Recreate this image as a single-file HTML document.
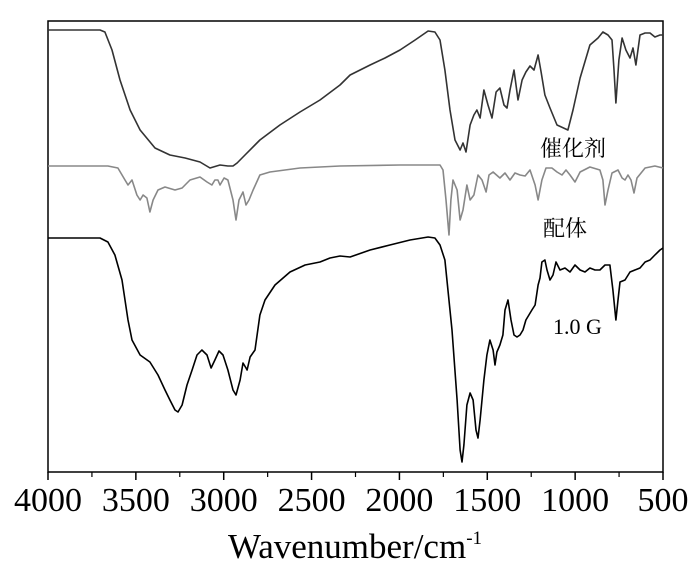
<!DOCTYPE html>
<html><head><meta charset="utf-8"><style>
body{margin:0;background:#fff}
svg{display:block}
</style></head><body>
<svg id="chart" width="700" height="572" viewBox="0 0 700 572" xmlns="http://www.w3.org/2000/svg">
<rect x="48" y="21" width="615" height="451" fill="none" stroke="#000" stroke-width="1.5"/>
<g id="series"></g>
<g id="xaxis"></g>
<text x="355" y="558" text-anchor="middle" font-family="Liberation Serif, serif" font-size="35">Wavenumber/cm<tspan font-size="19" dy="-14">-1</tspan></text>
<text x="540" y="156" font-family="Liberation Serif, 'Noto Serif CJK SC', 'Noto Sans CJK SC', serif" font-size="22">催化剂</text>
<text x="543" y="236" font-family="Liberation Serif, 'Noto Serif CJK SC', 'Noto Sans CJK SC', serif" font-size="22">配体</text>
<text x="553" y="334" font-family="Liberation Serif, serif" font-size="22">1.0 G</text>
</svg>
<script>
const xTicks=[4000,3500,3000,2500,2000,1500,1000,500];
const xMinor=[3750,3250,2750,2250,1750,1250,750];
const catWn=[4000,3704,3676,3636,3590,3533,3476,3391,3306,3220,3135,3078,3021,2976,2947,2924,2879,2794,2680,2566,2452,2338,2281,2167,2082,1997,1911,1837,1798,1769,1741,1712,1684,1655,1638,1621,1598,1576,1559,1541,1519,1496,1473,1450,1428,1405,1388,1371,1348,1325,1302,1280,1257,1234,1211,1194,1172,1143,1103,1041,1012,972,916,870,842,813,790,779,768,751,733,711,688,671,654,631,602,574,546,517,500];
const catSig=[442,442,440,422,392,362,342,324,317,314,310,304,307,306,306,309,317,332,347,360,372,387,397,407,414,422,432,441,440,432,402,362,332,322,329,320,347,357,362,354,382,367,354,380,384,367,364,382,402,372,392,400,406,402,417,400,377,364,347,342,362,394,427,434,440,437,432,402,369,412,434,422,414,424,407,437,439,439,435,437,437];
const ligWn=[4000,3659,3602,3562,3545,3522,3494,3476,3459,3437,3420,3402,3374,3334,3277,3237,3192,3135,3095,3067,3050,3033,3021,2998,2976,2947,2930,2913,2890,2873,2856,2833,2794,2737,2566,2338,1997,1769,1752,1735,1718,1707,1695,1672,1655,1638,1616,1598,1576,1553,1530,1507,1490,1467,1428,1399,1371,1342,1314,1285,1257,1228,1211,1189,1166,1132,1103,1075,1052,1029,1001,972,916,859,842,830,813,790,756,733,716,699,682,665,648,602,546,500];
const ligSig=[306,306,304,292,287,292,277,272,277,274,260,272,282,285,282,284,292,295,290,287,292,292,287,294,292,272,252,272,280,267,272,282,297,300,304,306,307,307,302,272,237,272,292,282,252,262,287,272,277,297,292,280,297,300,294,299,292,299,297,296,302,287,272,292,304,304,300,297,302,297,290,300,305,302,292,267,282,299,302,294,292,297,292,279,294,304,306,304];
const gWn=[4000,3704,3659,3619,3579,3545,3522,3476,3420,3374,3334,3306,3277,3260,3237,3209,3180,3152,3124,3095,3072,3050,3027,3004,2976,2947,2930,2907,2890,2873,2867,2850,2822,2794,2765,2708,2623,2537,2452,2395,2338,2281,2167,2054,1940,1837,1798,1769,1741,1701,1672,1655,1644,1633,1616,1598,1581,1564,1553,1541,1519,1502,1485,1467,1456,1445,1428,1411,1399,1382,1365,1348,1331,1314,1297,1280,1263,1246,1228,1211,1200,1189,1172,1160,1143,1126,1109,1086,1058,1029,1001,972,944,916,887,859,830,802,785,768,756,745,716,688,660,631,602,574,546,517,500];
const gSig=[234,234,230,217,192,152,132,117,110,97,82,72,62,60,67,87,102,117,122,117,104,112,121,117,102,82,77,92,109,104,102,115,122,157,172,187,200,207,210,214,216,215,222,227,232,235,234,227,212,142,72,22,10,27,67,79,72,42,34,52,92,117,132,122,107,120,127,137,162,172,152,137,135,137,142,152,157,162,167,187,194,210,212,202,192,197,210,202,204,200,207,202,200,204,202,202,207,207,182,152,172,190,192,200,202,204,210,212,217,222,224];
</script>
<script>
const NS="http://www.w3.org/2000/svg";
const X0=48,X1=663,Y0=472;
function xs(w){return X0+(4000-w)/3500*(X1-X0);}
function ys(v){return Y0-v;}
const xa=document.getElementById('xaxis');
xTicks.forEach(t=>{
  const l=document.createElementNS(NS,'line');
  l.setAttribute('x1',xs(t));l.setAttribute('x2',xs(t));l.setAttribute('y1',Y0);l.setAttribute('y2',Y0+8);
  l.setAttribute('stroke','#000');l.setAttribute('stroke-width','1.5');
  
  
  xa.appendChild(l);
  const tx=document.createElementNS(NS,'text');
  tx.setAttribute('x',xs(t));tx.setAttribute('y',511);tx.setAttribute('text-anchor','middle');
  tx.setAttribute('font-family','Liberation Serif, serif');tx.setAttribute('font-size','34');
  tx.textContent=t;
  
  
  xa.appendChild(tx);
});
xMinor.forEach(t=>{
  const l=document.createElementNS(NS,'line');
  l.setAttribute('x1',xs(t));l.setAttribute('x2',xs(t));l.setAttribute('y1',Y0);l.setAttribute('y2',Y0+5);
  l.setAttribute('stroke','#000');l.setAttribute('stroke-width','1.2');
  
  
  xa.appendChild(l);
});
const sg=document.getElementById('series');
function draw(wn,sig,color,name){
  const p=document.createElementNS(NS,'path');
  let d='';
  for(let i=0;i<Math.min(wn.length,sig.length);i++){d+=(i?'L':'M')+xs(wn[i]).toFixed(1)+','+ys(sig[i]).toFixed(1);}
  p.setAttribute('d',d);p.setAttribute('fill','none');p.setAttribute('stroke',color);
  p.setAttribute('stroke-width','1.6');p.setAttribute('stroke-linejoin','round');
  
  
  sg.appendChild(p);
}
draw(catWn,catSig,'#333','catalyst-line');
draw(ligWn,ligSig,'#888','ligand-line');
draw(gWn,gSig,'#000','g10-line');
</script>
</body></html>
